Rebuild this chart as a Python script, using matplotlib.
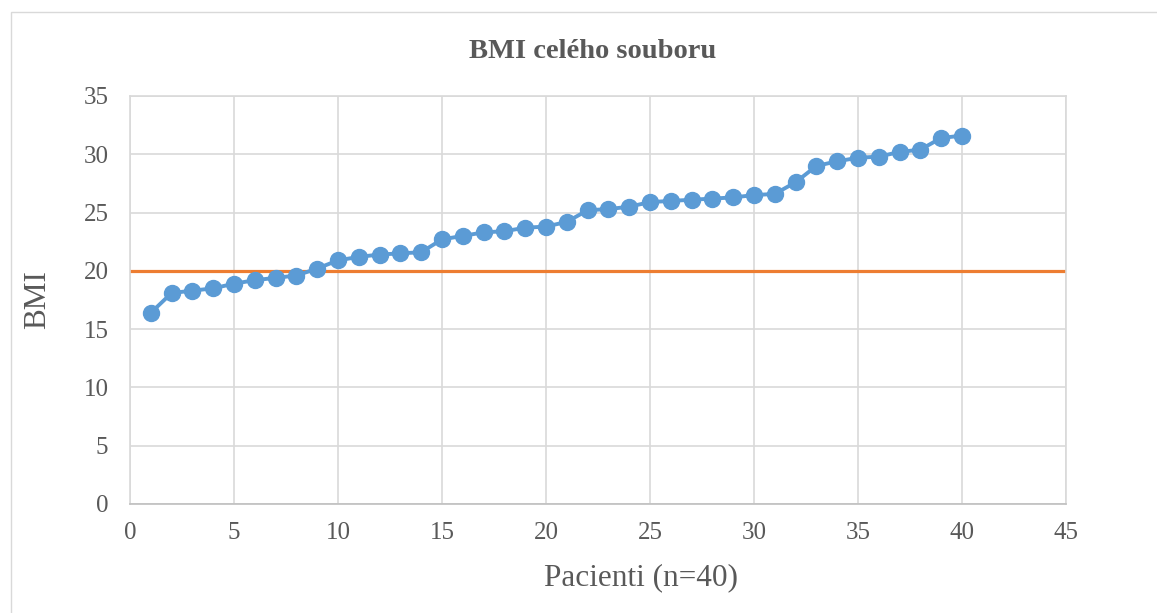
import matplotlib
matplotlib.use("Agg")
import matplotlib.pyplot as plt
from matplotlib.patches import Rectangle

patients = list(range(1, 41))
bmi = [16.4, 18.1, 18.3, 18.5, 18.9, 19.2, 19.4, 19.6, 20.2, 20.9,
       21.2, 21.4, 21.5, 21.6, 22.7, 23.0, 23.3, 23.4, 23.7, 23.8,
       24.2, 25.2, 25.3, 25.5, 25.9, 26.0, 26.1, 26.2, 26.3, 26.5,
       26.6, 27.6, 29.0, 29.4, 29.7, 29.8, 30.2, 30.4, 31.4, 31.6]
threshold = 20
x_ticks = [0, 5, 10, 15, 20, 25, 30, 35, 40, 45]
y_ticks = [0, 5, 10, 15, 20, 25, 30, 35]

title = "BMI celého souboru"
xlabel = "Pacienti (n=40)"
ylabel = "BMI"

plt.rcParams['font.family'] = ['Liberation Serif', 'DejaVu Serif']
TXT = '#595959'
GRID = '#D9D9D9'

fig = plt.figure(figsize=(11.57, 6.13), dpi=100)
fig.patch.set_facecolor('white')
# chart area border
fig.patches.append(Rectangle((11/1157, -0.1), 1.2, 1 - 12/613 + 0.1,
                             transform=fig.transFigure, fill=False,
                             edgecolor=GRID, lw=1.0))

ax = fig.add_axes([130/1157, 1 - 504/613, (1066-130)/1157, (504-96)/613])
ax.set_xlim(0, 45)
ax.set_ylim(0, 35)
ax.set_xticks(x_ticks)
ax.set_yticks(y_ticks)
ax.grid(True, color=GRID, lw=1.2, zorder=0)
ax.set_axisbelow(True)
for s in ['top', 'right', 'left']:
    ax.spines[s].set_color(GRID)
    ax.spines[s].set_linewidth(1.2)
ax.spines['bottom'].set_color('#BFBFBF')
ax.spines['bottom'].set_linewidth(1.2)
ax.tick_params(length=0, labelsize=18, colors=TXT)
ax.tick_params(axis='y', pad=15.5)
ax.tick_params(axis='x', pad=13)

ax.axhline(threshold, color='#ED7D31', lw=2.3, zorder=2)
ax.plot(patients, bmi, color='#5B9BD5', lw=2.8, marker='o', markersize=11.5,
        markerfacecolor='#5B9BD5', markeredgecolor='#5B9BD5', zorder=3,
        clip_on=False)

fig.text(593/1157, 1 - 52/613, title, ha='center', va='center',
         fontsize=20.5, fontweight='bold', color=TXT)
fig.text(641/1157, 1 - 578/613, xlabel, ha='center', va='center',
         fontsize=22.5, color=TXT)
fig.text(38/1157, 1 - 300/613, ylabel, ha='center', va='center',
         fontsize=22.5, color=TXT, rotation=90)

fig.savefig('out.png', dpi=100, facecolor='white')
